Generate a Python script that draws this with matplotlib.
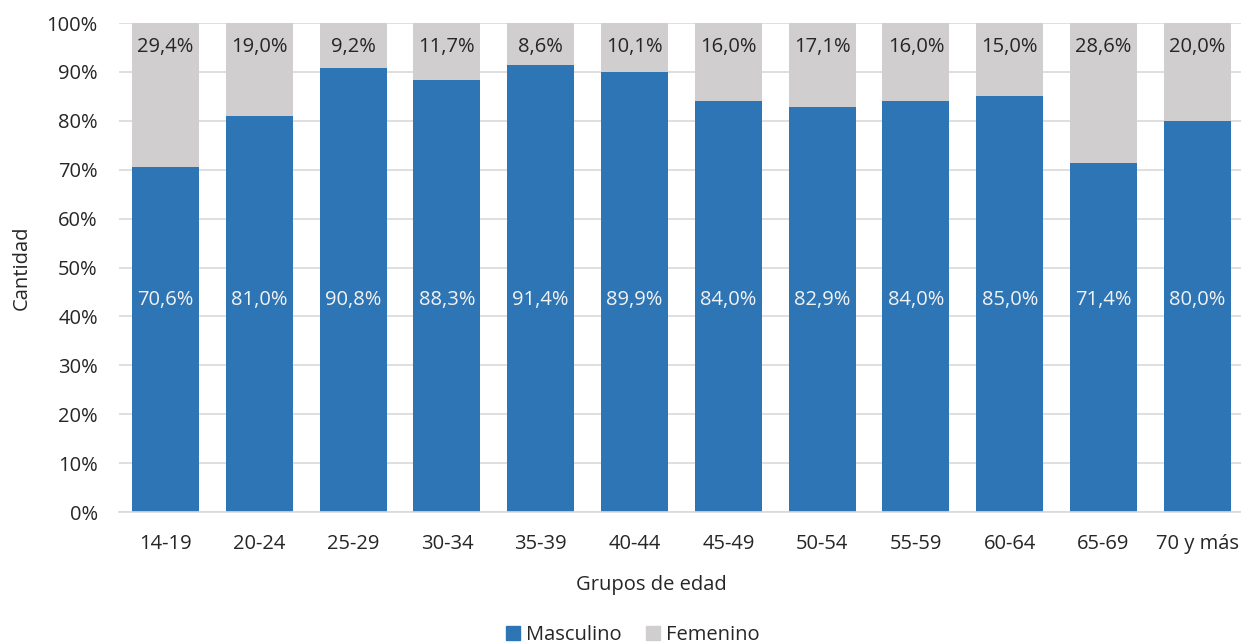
import matplotlib
matplotlib.use("Agg")
import matplotlib.pyplot as plt
from matplotlib.patches import Patch
from matplotlib.ticker import FuncFormatter

plt.rcParams['font.family'] = ['Open Sans', 'DejaVu Sans']

grupos = ['14-19', '20-24', '25-29', '30-34', '35-39', '40-44',
          '45-49', '50-54', '55-59', '60-64', '65-69', '70 y más']
masculino = [70.6, 81.0, 90.8, 88.3, 91.4, 89.9, 84.0, 82.9, 84.0, 85.0, 71.4, 80.0]
femenino = [29.4, 19.0, 9.2, 11.7, 8.6, 10.1, 16.0, 17.1, 16.0, 15.0, 28.6, 20.0]

azul = '#2E75B6'
gris = '#D0CECE'
texto = '#262626'
fs = 14.5

fig = plt.figure(figsize=(12.41, 6.43), dpi=100)
ax = fig.add_axes([0.0956, 0.2037, 0.907, 0.7605])

x = list(range(len(grupos)))
ax.bar(x, masculino, width=0.714, color=azul, zorder=2)
ax.bar(x, femenino, width=0.714, bottom=masculino, color=gris, zorder=2)

def fmt(v):
    return '{:.1f}%'.format(v).replace('.', ',')

for i in x:
    ax.text(i, 43.4, fmt(masculino[i]), ha='center', va='center',
            color='#F2F2F2', fontsize=fs, zorder=3)
    ax.annotate(fmt(femenino[i]), (i, 100), xytext=(0, -17), textcoords='offset points',
                ha='center', va='center', color=texto, fontsize=fs, zorder=3)

ax.set_xlim(-0.5, len(grupos) - 0.5)
ax.set_ylim(0, 100)
ax.set_yticks(range(0, 101, 10))
ax.yaxis.set_major_formatter(FuncFormatter(lambda v, p: '{:.0f}%'.format(v)))
ax.set_xticks(x)
ax.set_xticklabels(grupos)
ax.tick_params(axis='both', length=0, labelsize=fs, colors=texto)
ax.tick_params(axis='x', pad=16)
ax.tick_params(axis='y', pad=15)
ax.grid(axis='y', color='#D9D9D9', linewidth=1.2, zorder=0)
for s in ['top', 'right', 'left']:
    ax.spines[s].set_visible(False)
ax.spines['bottom'].set_color('#D9D9D9')
ax.spines['bottom'].set_linewidth(1.2)

ax.set_xlabel('Grupos de edad', fontsize=fs, color=texto)
ax.xaxis.set_label_coords(0.473, -0.129)
ax.set_ylabel('Cantidad', fontsize=fs, color=texto)
ax.yaxis.set_label_coords(-0.077, 0.5)

handles = [Patch(color=azul, label='Masculino'), Patch(color=gris, label='Femenino')]
fig.legend(handles=handles, loc='center', bbox_to_anchor=(0.51, 0.013), ncol=2,
           frameon=False, fontsize=fs, handlelength=0.7, handleheight=0.7,
           handletextpad=0.3, columnspacing=1.2, labelcolor=texto)

fig.savefig('out.png', dpi=100)
